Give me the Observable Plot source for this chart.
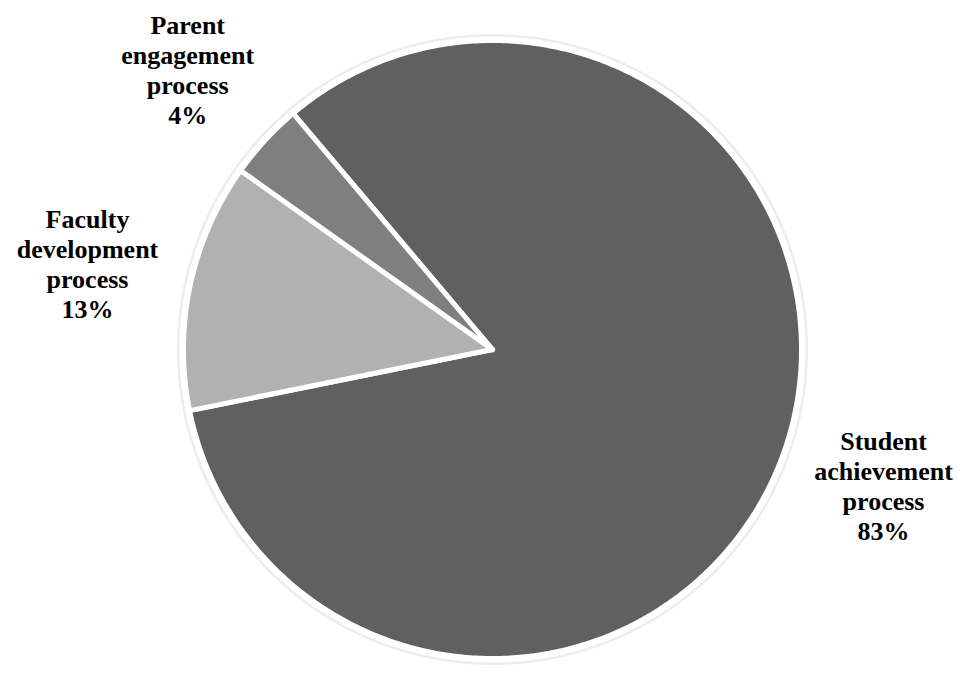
<!DOCTYPE html>
<html>
<head>
<meta charset="utf-8">
<script src="https://cdn.jsdelivr.net/npm/d3@7"></script>
<script src="https://cdn.jsdelivr.net/npm/@observablehq/plot@0.6"></script>
<style>
  html, body { margin: 0; padding: 0; background: #fff; }
  #chart svg { display: block; }
</style>
</head>
<body>
<div id="chart"></div>
<script>
// Data (clockwise order as drawn)
const categories = ["Student\nachievement\nprocess", "Faculty\ndevelopment\nprocess", "Parent\nengagement\nprocess"];
const values = [83, 13, 4];
const percentLabels = ["83%", "13%", "4%"];
const colors = ["#606060", "#b1b1b1", "#7f7f7f"];

const W = 958, H = 673;
const startDeg = -40.2;
const pie = d3.pie().sort(null).value(d => d.value)
  .startAngle(startDeg * Math.PI / 180)
  .endAngle(startDeg * Math.PI / 180 + 2 * Math.PI);

const rows = categories.map((c, i) => ({category: c, value: values[i], pct: percentLabels[i], color: colors[i]}));
const arcs = pie(rows);

function slicePoints(a) {
  const n = Math.max(4, Math.ceil((a.endAngle - a.startAngle) / 0.01));
  const pts = [{x: 0, y: 0}];
  for (let k = 0; k <= n; k++) {
    const t = a.startAngle + (a.endAngle - a.startAngle) * k / n;
    pts.push({x: Math.sin(t), y: Math.cos(t)});
  }
  pts.push({x: 0, y: 0});
  return pts;
}
const circle = d3.range(0, 361).map(k => {
  const t = k * Math.PI / 180;
  return {x: Math.sin(t), y: Math.cos(t)};
});

const labelR = 1.34;
const labelData = arcs.map(a => {
  const m = (a.startAngle + a.endAngle) / 2;
  return {x: labelR * Math.sin(m), y: labelR * Math.cos(m), text: a.data.category + "\n" + a.data.pct};
});

const plot = Plot.plot({
  width: W,
  height: H,
  margin: 0,
  x: {domain: [-492 / 309, (W - 492) / 309], axis: null},
  y: {domain: [-(H - 349) / 309, 349 / 309], axis: null},
  marks: [
    Plot.line(circle, {x: "x", y: "y", stroke: "#ededed", strokeWidth: 13}),
    Plot.line(circle, {x: "x", y: "y", stroke: "#ffffff", strokeWidth: 8}),
    ...arcs.map(a => Plot.line(slicePoints(a), {
      x: "x", y: "y", fill: a.data.color, stroke: "white", strokeWidth: 5, strokeLinejoin: "round"
    })),
    Plot.text(labelData, {
      x: "x", y: "y", text: "text",
      fontSize: 26, fontWeight: "bold", fontFamily: "Liberation Serif",
      lineHeight: 1.15, fill: "#000", textAnchor: "middle"
    })
  ]
});
document.getElementById("chart").appendChild(plot);
</script>
</body>
</html>
